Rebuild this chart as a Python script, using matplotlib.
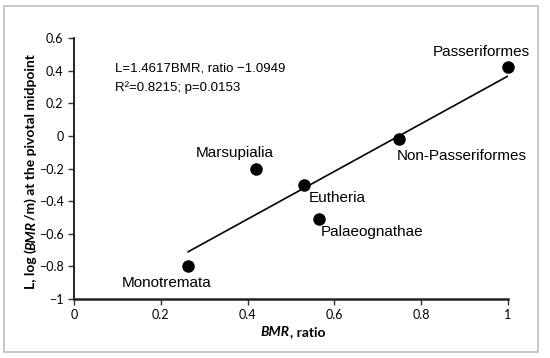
import matplotlib
matplotlib.use('Agg')
import matplotlib.pyplot as plt
from matplotlib.patches import Rectangle
from matplotlib.ticker import FixedLocator, FuncFormatter

# data
groups = ['Passeriformes', 'Non-Passeriformes', 'Marsupialia',
          'Eutheria', 'Palaeognathae', 'Monotremata']
bmr_ratio = [1.0, 0.748, 0.42, 0.531, 0.565, 0.263]
log_bmr = [0.424, -0.022, -0.205, -0.300, -0.512, -0.795]
slope, intercept = 1.4617, -1.0949
r2, pval = 0.8215, 0.0153

# label offsets from the dot centre, in pixels (dx right, dy down)
label_offsets = {
    'Passeriformes': (-27, -15),
    'Non-Passeriformes': (63, 17),
    'Marsupialia': (-22, -16),
    'Eutheria': (33, 13),
    'Palaeognathae': (53, 13),
    'Monotremata': (-22, 17),
}

W, H = 550, 358
fig = plt.figure(figsize=(W/100, H/100), dpi=100)
fig.patches.append(Rectangle((4/W, 1-352/H), 534/W, 346/H, transform=fig.transFigure,
                             fill=False, edgecolor='#bdbdbd', linewidth=1.2))

ax = fig.add_axes([74/W, 1-299/H, 434/W, 261/H])
ax.set_xlim(0, 1)
ax.set_ylim(-1, 0.6)
for s in ['top', 'right']:
    ax.spines[s].set_visible(False)
ax.spines['left'].set_linewidth(1.2)
ax.spines['bottom'].set_linewidth(1.8)
ax.spines['bottom'].set_color('#222222')

ax.xaxis.set_major_locator(FixedLocator([0, 0.2, 0.4, 0.6, 0.8, 1.0]))
ax.yaxis.set_major_locator(FixedLocator([-1, -0.8, -0.6, -0.4, -0.2, 0, 0.2, 0.4, 0.6]))
fmt = FuncFormatter(lambda v, p: ('%g' % round(v, 2)).replace('-', '\u2212'))
ax.xaxis.set_major_formatter(fmt)
ax.yaxis.set_major_formatter(fmt)
ax.tick_params(direction='out', length=4, width=1, labelsize=9, color='#333333')
for lbl in ax.get_xticklabels() + ax.get_yticklabels():
    lbl.set_family('Lato')

xs = [min(bmr_ratio), max(bmr_ratio)]
ax.plot(xs, [slope*x + intercept for x in xs], color='black', linewidth=1.2)
ax.plot(bmr_ratio, log_bmr, 'o', color='black', markersize=8, clip_on=False, zorder=3)

for g, x, y in zip(groups, bmr_ratio, log_bmr):
    dx, dy = label_offsets[g]
    ax.annotate(g, (x, y), xytext=(dx, -dy), textcoords='offset pixels',
                ha='center', va='center', fontsize=11, family='Liberation Sans')

ax.text(0.094, 0.41, 'L=%.4fBMR, ratio \u2212%.4f' % (slope, -intercept),
        fontsize=9.5, family='Liberation Sans', va='center')
ax.text(0.094, 0.293, 'R\u00b2=%.4f; p=%.4f' % (r2, pval),
        fontsize=9.5, family='Liberation Sans', va='center')

# x label: bold, with BMR in italic
fig.text(290/W, 1-332/H, 'BMR', fontsize=10, fontweight='bold', style='italic',
         family='Lato', ha='right', va='center')
fig.text(290/W, 1-332/H, ', ratio', fontsize=10, fontweight='bold',
         family='Lato', ha='left', va='center')

# y label: same idea, pieces stacked upwards
yl_parts = [('L, log (', 'normal'), ('BMR', 'italic'), ('/m) at the pivotal midpoint', 'normal')]
renderer = fig.canvas.get_renderer()
pieces = []
for t, st in yl_parts:
    tx = fig.text(31/W, 0, t, fontsize=10, fontweight='bold', style=st, family='Lato',
                  rotation=90, ha='center', va='bottom', rotation_mode='anchor')
    tx.set_rotation_mode('default')
    pieces.append(tx)
heights = [p.get_window_extent(renderer).height for p in pieces]
y0 = (H - 172) - sum(heights) / 2
for p, h in zip(pieces, heights):
    p.set_y(y0 / H)
    y0 += h

fig.savefig('out.png', dpi=100)
